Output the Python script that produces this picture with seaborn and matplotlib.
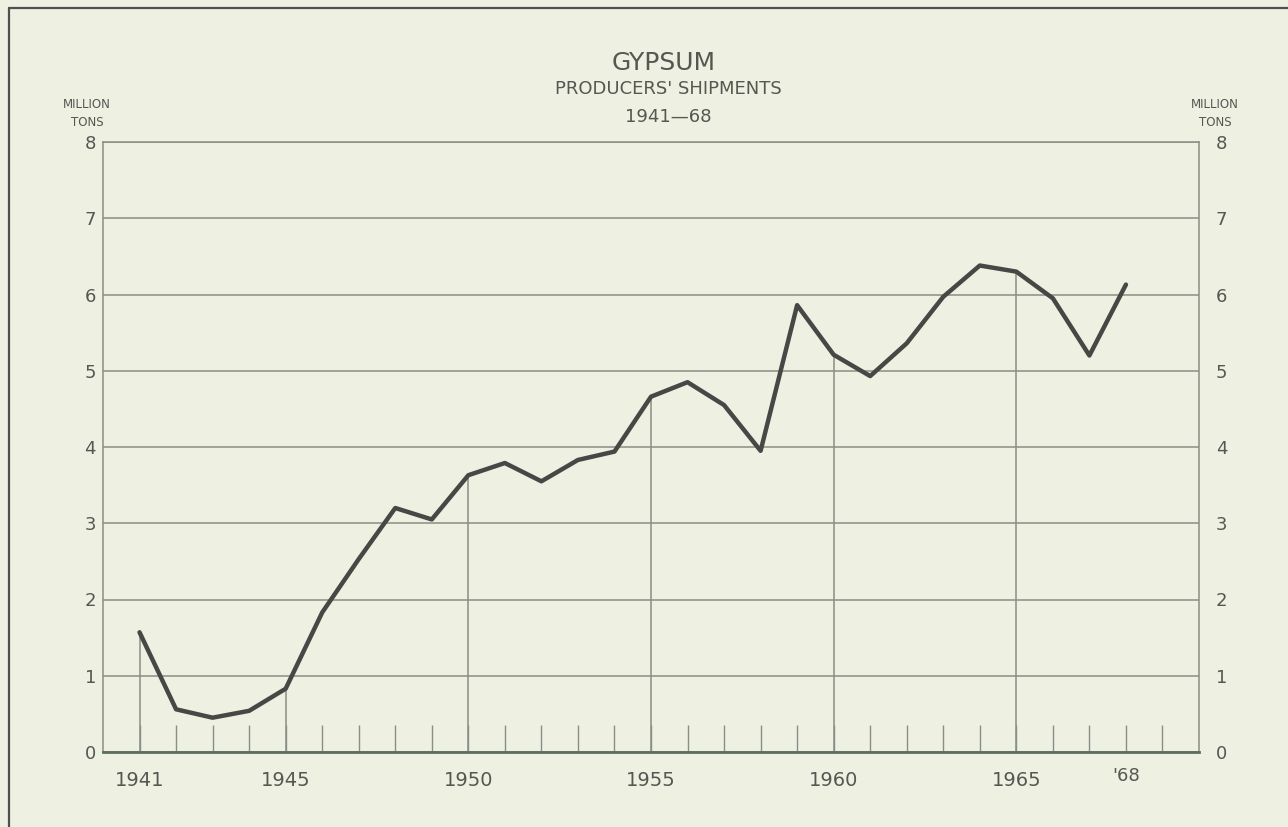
import matplotlib
matplotlib.use("Agg")
import matplotlib.pyplot as plt
from matplotlib.lines import Line2D
import seaborn as sns
import pandas as pd

# data (million tons)
years = list(range(1941, 1969))
shipments = [1.57, 0.56, 0.45, 0.54, 0.83, 1.83, 2.53, 3.20, 3.05, 3.63,
             3.79, 3.55, 3.83, 3.94, 4.66, 4.85, 4.55, 3.95, 5.86, 5.21,
             4.93, 5.36, 5.97, 6.38, 6.30, 5.95, 5.20, 6.13]
label_years = [1941, 1945, 1950, 1955, 1960, 1965]
drop_years = [1941, 1945, 1950, 1955, 1960, 1965]
y_ticks = [0, 1, 2, 3, 4, 5, 6, 7, 8]

df = pd.DataFrame({"year": years, "tons": shipments})

paper = "#eef0e2"
ink = "#555752"
grid_col = "#8b8e85"

sns.set_theme(style="white")
plt.rcParams["font.family"] = ["DejaVu Sans"]

W, H = 1288, 827
fig = plt.figure(figsize=(W / 100, H / 100), dpi=100, facecolor=paper)
ax = fig.add_axes([103 / W, 1 - 752 / H, (1199 - 103) / W, (752 - 142) / H])
ax.set_facecolor(paper)

# horizontal rulings
ax.set_ylim(0, 8)
ax.set_xlim(1940, 1970)
ax.set_yticks(y_ticks)
ax.grid(axis="y", color=grid_col, lw=1.1)
ax.grid(axis="x", visible=False)

# vertical drop lines from the base up to the curve
drop_vals = [shipments[years.index(y)] for y in drop_years]
ax.vlines(drop_years, 0, drop_vals, color=grid_col, lw=1.1, zorder=2)

# the series
sns.lineplot(data=df, x="year", y="tons", ax=ax, color="#474845", lw=3.2, zorder=3)

# spines
for side in ["left", "right", "top"]:
    ax.spines[side].set_color(grid_col)
    ax.spines[side].set_linewidth(1.1)
ax.spines["bottom"].set_color("#5d6d5f")
ax.spines["bottom"].set_linewidth(2)

# x ticks: short upward ticks every year
ax.set_xticks(label_years)
ax.set_xticklabels([str(y) for y in label_years])
ax.set_xticks(years + [1969], minor=True)
ax.tick_params(axis="x", which="both", direction="in", length=19.5, width=1,
               color=grid_col, bottom=True)
ax.tick_params(axis="x", which="major", labelsize=14, labelcolor=ink, pad=14)
ax.annotate("'68", xy=(1968, 0), xytext=(0, -17), textcoords="offset points",
            ha="center", va="center", fontsize=13, color=ink)

# y labels on both sides
ax.tick_params(axis="y", which="both", length=0, labelsize=13, labelcolor=ink, pad=5)
ax.set_xlabel("")
ax.set_ylabel("")
ax2 = ax.twinx()
ax2.set_ylim(0, 8)
ax2.set_yticks(y_ticks)
ax2.tick_params(axis="y", length=0, labelsize=13, labelcolor=ink, pad=12)
ax2.grid(False)
for s in ax2.spines.values():
    s.set_visible(False)

# units
for xc in [87, 1215]:
    fig.text(xc / W, 1 - 105 / H, "MILLION", ha="center", va="center", fontsize=8.5, color=ink)
    fig.text(xc / W, 1 - 122 / H, "TONS", ha="center", va="center", fontsize=8.5, color=ink)

# titles
fig.text(664 / W, 1 - 63 / H, "GYPSUM", ha="center", va="center", fontsize=18, color=ink)
fig.text(668 / W, 1 - 89 / H, "PRODUCERS' SHIPMENTS", ha="center", va="center", fontsize=13, color=ink)
fig.text(668 / W, 1 - 117 / H, "1941\u201468", ha="center", va="center", fontsize=13, color=ink)

# page frame (left and top edges)
fig.add_artist(Line2D([9 / W, 9 / W], [0, 1 - 8 / H], transform=fig.transFigure, color="#505050", lw=1.6))
fig.add_artist(Line2D([9 / W, 1], [1 - 8 / H, 1 - 8 / H], transform=fig.transFigure, color="#505050", lw=1.6))

fig.savefig("out.png", dpi=100, facecolor=paper)
